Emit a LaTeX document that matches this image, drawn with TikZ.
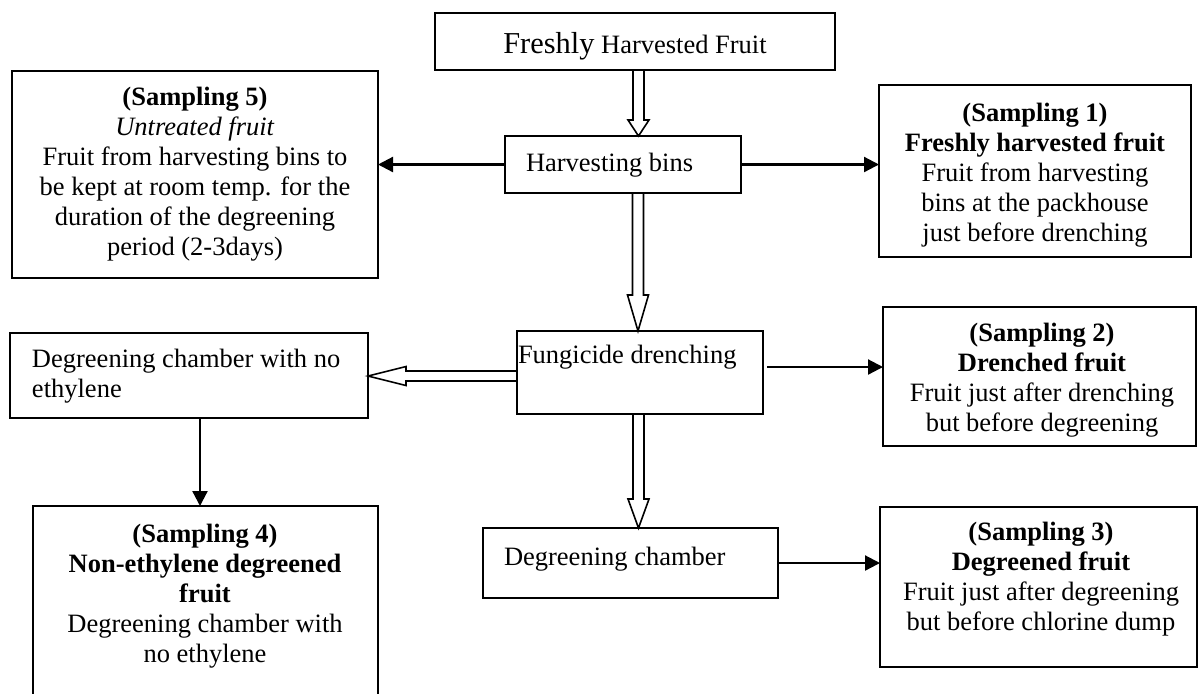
\documentclass[tikz,border=0pt]{standalone}
\usepackage{fontspec}
\setmainfont{Liberation Serif}
\usetikzlibrary{arrows.meta,calc}
\newcommand\bodyfs{\fontsize{13.25}{15}\selectfont}
\newcommand\bigfs{\fontsize{15.2}{17}\selectfont}
\tikzset{
  box/.style={draw, line width=1pt, inner sep=0pt, outer sep=0pt},
  txt/.style={inner sep=0pt, outer sep=0pt, align=center, font=\bodyfs},
  ltxt/.style={inner sep=0pt, outer sep=0pt, align=left, font=\bodyfs},
  arr/.style={line width=1.1pt, -{Triangle[length=7.5pt,width=7.5pt]}},
  hollow/.style={draw, line width=0.8pt, fill=white, line join=miter},
}
% hollow downward arrow: x, from node, to node, head length
\newcommand\hdown[4]{%
  \draw[hollow] (#1-5.5,0 |- #2.south) -- ($(#1-5.5,0 |- #3.north)+(0,-#4)$)
    -- ($(#1-10.5,0 |- #3.north)+(0,-#4)$) -- (#1,0 |- #3.north)
    -- ($(#1+10.5,0 |- #3.north)+(0,-#4)$) -- ($(#1+5.5,0 |- #3.north)+(0,-#4)$)
    -- (#1+5.5,0 |- #2.south) -- cycle;}
% hollow leftward arrow: y, from node, to node, head length
\newcommand\hleft[4]{%
  \draw[hollow] (#2.west |- 0,#1-5) -- ($(#3.east |- 0,#1-5)+(#4,0)$)
    -- ($(#3.east |- 0,#1-9.5)+(#4,0)$) -- (#3.east |- 0,#1)
    -- ($(#3.east |- 0,#1+9.5)+(#4,0)$) -- ($(#3.east |- 0,#1+5)+(#4,0)$)
    -- (#2.west |- 0,#1+5) -- cycle;}
\begin{document}
\begin{tikzpicture}[x=0.5pt, y=-0.5pt]
\useasboundingbox (0,0) rectangle (1198,693);
\clip (0,0) rectangle (1198,693);
\fill[white] (0,0) rectangle (1198,693);

% boxes
\node[box, minimum width=200pt, minimum height=28.5pt] (top) at (635,41.5) {};
\node[box, minimum width=118pt, minimum height=28.5pt] (bins) at (623,164.5) {};
\node[box, minimum width=183pt, minimum height=103.5pt] (s5) at (195,174.5) {};
\node[box, minimum width=156pt, minimum height=86pt] (s1) at (1035,171) {};
\node[box, minimum width=123pt, minimum height=41.5pt] (fd) at (640,372.5) {};
\node[box, minimum width=179pt, minimum height=42.5pt] (dne) at (189,375.5) {};
\node[box, minimum width=156.5pt, minimum height=69.5pt] (s2) at (1039.5,376.5) {};
\node[box, minimum width=147.5pt, minimum height=35pt] (dc) at (630.5,563) {};
\node[box, minimum width=158.5pt, minimum height=80pt] (s3) at (1038.5,587) {};
\node[box, minimum width=172.5pt, minimum height=102pt] (s4) at (205.5,608) {};

% texts
\node[txt, anchor=base] (toptxt) at (635,53) {{\bigfs Freshly} Harvested Fruit};
\node[ltxt, anchor=base west] (binstxt) at (526,171) {Harvesting bins};
\node[txt] (s5txt) at (195,174) {\textbf{(Sampling 5)}\\ \textit{Untreated fruit}\\ Fruit from harvesting bins to\\ be kept at room temp. for the\\ duration of the degreening\\ period (2-3days)};
\node[txt] (s1txt) at (1035,175.5) {\textbf{(Sampling 1)}\\ \textbf{Freshly harvested fruit}\\ Fruit from harvesting\\ bins at the packhouse\\ just before drenching};
\node[ltxt, anchor=base west] (fdtxt) at (518,363) {Fungicide drenching};
\node[ltxt, anchor=west] (dnetxt) at (32,376) {Degreening chamber with no\\ ethylene};
\node[txt] (s2txt) at (1042,380.5) {\textbf{(Sampling 2)}\\ \textbf{Drenched fruit}\\ Fruit just after drenching\\ but before degreening};
\node[ltxt, anchor=base west] (dctxt) at (504,565) {Degreening chamber};
\node[txt] (s3txt) at (1041,579) {\textbf{(Sampling 3)}\\ \textbf{Degreened fruit}\\ Fruit just after degreening\\ but before chlorine dump};
\node[txt] (s4txt) at (205,596) {\textbf{(Sampling 4)}\\ \textbf{Non-ethylene degreened}\\ \textbf{fruit}\\ Degreening chamber with\\ no ethylene};

% hollow arrows
\hdown{638.5}{top}{bins}{16}
\hdown{638}{bins}{fd}{36}
\hdown{638.5}{fd}{dc}{29}
\hleft{376}{fd}{dne}{38}

% solid arrows
\draw[arr] (bins.west) -- (s5.east |- bins.west);
\draw[arr] (bins.east) -- (s1.west |- bins.east);
\coordinate (fdout) at ($(fd.east |- 0,367)+(4,0)$);
\draw[arr] (fdout) -- (s2.west |- fdout);
\draw[arr] (dc.east) -- (s3.west |- dc.east);
\draw[arr] (200,0 |- dne.south) -- (200,0 |- s4.north);
\end{tikzpicture}
\end{document}
